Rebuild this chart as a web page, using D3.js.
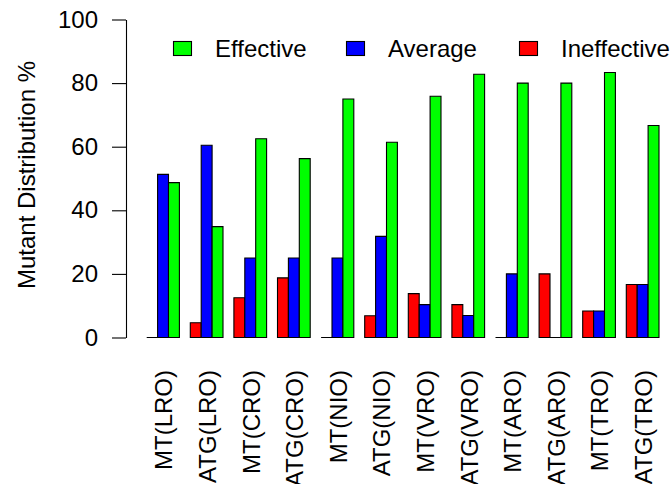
<!DOCTYPE html>
<html>
<head>
<meta charset="utf-8">
<script src="https://cdn.jsdelivr.net/npm/d3@7"></script>
<style>
  html, body { margin: 0; padding: 0; background: #fff; }
  svg { display: block; }
  text { font-family: "Liberation Sans", Arial, Helvetica, sans-serif; fill: #000; }
</style>
</head>
<body>
<svg id="chart" width="671" height="484"></svg>
<script>
// ---- data ----
const categories = ["MT(LRO)", "ATG(LRO)", "MT(CRO)", "ATG(CRO)", "MT(NIO)", "ATG(NIO)",
                    "MT(VRO)", "ATG(VRO)", "MT(ARO)", "ATG(ARO)", "MT(TRO)", "ATG(TRO)"];
const ineffective = [0, 4.65, 12.5, 18.75, 0, 6.82, 13.8, 10.34, 0, 20, 8.33, 16.67];
const average     = [51.3, 60.47, 25, 25, 25, 31.8, 10.34, 6.9, 20, 0, 8.33, 16.67];
const effective   = [48.7, 34.88, 62.5, 56.25, 75, 61.4, 75.86, 82.76, 80, 80, 83.33, 66.67];
const seriesNames = ["Ineffective", "Average", "Effective"];
const seriesColors = ["#FF0000", "#0000FF", "#00FF00"];
const legendOrder = ["Effective", "Average", "Ineffective"];
const yTicks = [0, 20, 40, 60, 80, 100];
const yTitle = "Mutant Distribution %";

const seriesValues = [ineffective, average, effective];

// ---- layout ----
const svg = d3.select("#chart");
const FS = 24;

const x0 = d3.scaleBand().domain(categories).range([146.7, 659]).paddingInner(0.25).paddingOuter(0);
const x1 = d3.scaleBand().domain(seriesNames).range([0, x0.bandwidth()]).padding(0);
const y = d3.scaleLinear().domain([0, 100]).range([337.5, 19.5]);
const color = d3.scaleOrdinal().domain(seriesNames).range(seriesColors);

// bars (as paths so zero-height bars still show their outline)
const rows = [];
categories.forEach((c, i) => {
  seriesNames.forEach((s, j) => rows.push({cat: c, series: s, value: seriesValues[j][i]}));
});
svg.append("g").selectAll("path").data(rows).join("path")
  .attr("d", d => {
    const xa = x0(d.cat) + x1(d.series), xb = xa + x1.bandwidth();
    const ya = y(0), yb = y(d.value);
    return `M${xa},${ya}H${xb}V${yb}H${xa}Z`;
  })
  .attr("fill", d => color(d.series))
  .attr("stroke", "#000")
  .attr("stroke-width", 1.1);

// y axis
const yAxis = svg.append("g").attr("transform", "translate(126,0)")
  .call(d3.axisLeft(y).tickValues(yTicks).tickSize(14).tickSizeOuter(0).tickPadding(14));
yAxis.selectAll("path, line").attr("stroke", "#000").attr("stroke-width", 1.1);
yAxis.selectAll("text").attr("font-size", FS).attr("font-family", "Liberation Sans, Arial, sans-serif").attr("fill", "#000");

// y title
svg.append("text")
  .attr("transform", `translate(27,175) rotate(-90)`)
  .attr("text-anchor", "middle").attr("dy", "0.35em")
  .attr("font-size", FS)
  .text(yTitle);

// x labels (rotated)
svg.append("g").selectAll("text").data(categories).join("text")
  .attr("transform", d => `translate(${x0(d) + x0.bandwidth() / 2 + 1},370) rotate(-90)`)
  .attr("text-anchor", "end").attr("dy", "0.35em")
  .attr("font-size", FS)
  .text(d => d);

// legend
const legend = svg.append("g");
legendOrder.forEach((name, i) => {
  const gx = 173.5 + i * 173;
  legend.append("rect")
    .attr("x", gx).attr("y", 41.5).attr("width", 18).attr("height", 14)
    .attr("fill", color(name)).attr("stroke", "#000").attr("stroke-width", 1.1);
  legend.append("text")
    .attr("x", gx + 41.5).attr("y", 48.7).attr("dy", "0.35em")
    .attr("font-size", FS)
    .text(name);
});
</script>
</body>
</html>
